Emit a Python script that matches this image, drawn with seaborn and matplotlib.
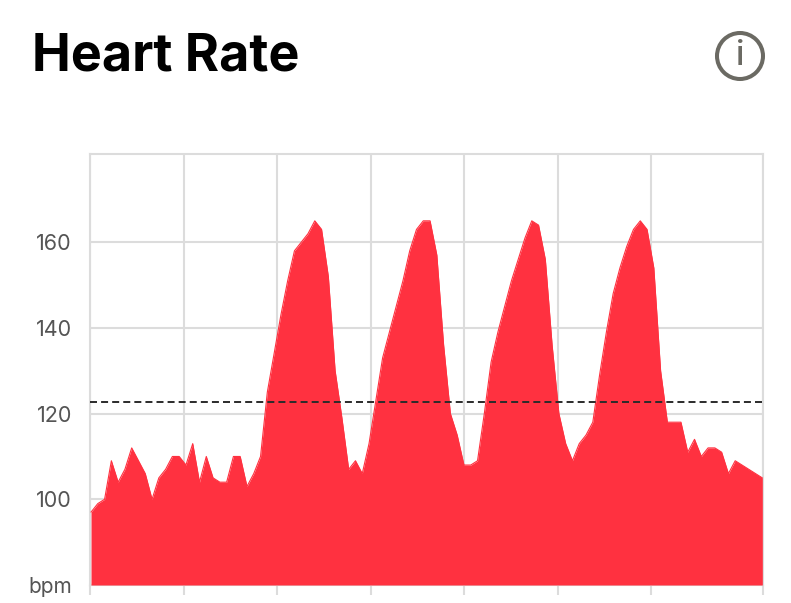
import pandas as pd
import matplotlib.pyplot as plt
from matplotlib.patches import Circle
import seaborn as sns

# Heart rate samples (bpm)
heart_rate = [97, 99, 100, 109, 104, 107, 112, 109, 106, 100,
              105, 107, 110, 110, 108, 113, 104, 110, 105, 104,
              104, 110, 110, 103, 106, 110, 125, 134, 143, 151,
              158, 160, 162, 165, 163, 152, 130, 119, 107, 109,
              106, 113, 123, 133, 139, 145, 151, 158, 163, 165,
              165, 157, 136, 120, 115, 108, 108, 109, 120, 132,
              139, 145, 151, 156, 161, 165, 164, 156, 136, 120,
              113, 109, 113, 115, 118, 129, 139, 148, 154, 159,
              163, 165, 163, 154, 130, 118, 118, 118, 111, 114,
              110, 112, 112, 111, 106, 109, 108, 107, 106, 105]
sample = list(range(len(heart_rate)))
average_hr = 122.6

y_ticks = [80, 100, 120, 140, 160]
y_labels = ['bpm', '100', '120', '140', '160']
x_ticks = [-0.15, 13.64, 27.43, 41.22, 55.01, 68.8, 82.59, 99.1]

RED = '#ff3140'
GRID = '#dcdcdc'
TEXT = '#555555'
ICON = '#6b6a63'
W, H = 791, 603

sns.set_theme(style='white')
plt.rcParams['font.family'] = ['Inter', 'DejaVu Sans']

df = pd.DataFrame({'sample': sample, 'bpm': heart_rate})

fig = plt.figure(figsize=(W / 100, H / 100), dpi=100)
ax = fig.add_axes([90 / W, 1 - 585 / H, 673 / W, 431 / H])

# Area under the curve
sns.lineplot(data=df, x='sample', y='bpm', color=RED, linewidth=0.8, ax=ax, zorder=3)
ax.fill_between(df['sample'], df['bpm'], 80, color=RED, linewidth=0, zorder=3)
ax.axhline(average_hr, color='#2b2b2b', linewidth=1.4, dashes=(3.6, 2.1), zorder=4)

ax.set_xlim(-0.15, 99.1)
ax.set_ylim(80, 180.6)
ax.set_xticks(x_ticks)
ax.set_xticklabels([])
ax.set_yticks(y_ticks)
ax.set_yticklabels(y_labels, fontsize=15.5, color=TEXT)
ax.get_yticklabels()[0].set_fontsize(15)
ax.set_xlabel('')
ax.set_ylabel('')
ax.grid(True, color=GRID, linewidth=1.5, zorder=1)
ax.set_axisbelow(True)
ax.tick_params(axis='x', bottom=True, length=7, width=1.5, color=GRID)
ax.tick_params(axis='y', left=False, length=0, pad=13)
for spine in ax.spines.values():
    spine.set_color(GRID)
    spine.set_linewidth(1.5)

# Header drawn on an overlay in pixel coordinates
overlay = fig.add_axes([0, 0, 1, 1], facecolor='none')
overlay.set_xlim(0, W)
overlay.set_ylim(H, 0)
overlay.axis('off')
overlay.text(32, 57, 'Heart Rate', fontsize=37.5, fontweight='bold', color='black',
             ha='left', va='center')
overlay.add_patch(Circle((740, 56), 23, fill=False, edgecolor=ICON, linewidth=2.9))
overlay.text(740, 56, 'i', fontsize=24, fontweight='medium', color=ICON,
             ha='center', va='center')

plt.savefig('out.png', dpi=100)
